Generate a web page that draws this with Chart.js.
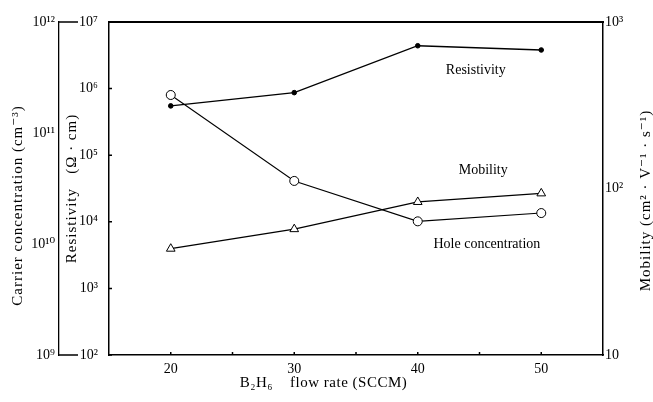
<!DOCTYPE html>
<html>
<head>
<meta charset="utf-8">
<script src="https://cdn.jsdelivr.net/npm/chart.js@4.4.1/dist/chart.umd.min.js"></script>
<style>
  html, body { margin: 0; padding: 0; background: #fff; }
  #wrap { width: 653px; height: 402px; }
</style>
</head>
<body>
<div id="wrap"><canvas id="chart"></canvas></div>
<script>
// values
var flowRates = [20, 30, 40, 50];
var resistivity = [5.5e5, 8.7e5, 4.4e6, 3.8e6];
var holeConcentration = [2.2e11, 3.7e10, 1.6e10, 1.9e10];
var mobility = [43.5, 57, 83, 93.5];

var xTicks = [20, 30, 40, 50];
var xMinorTicks = [20, 25, 30, 35, 40, 45, 50];
var carrierTicks = [1e9, 1e10, 1e11, 1e12];
var carrierTickLabels = ['10⁹', '10¹⁰', '10¹¹', '10¹²'];
var resistivityTicks = [1e2, 1e3, 1e4, 1e5, 1e6, 1e7];
var resistivityTickLabels = ['10²', '10³', '10⁴', '10⁵', '10⁶', '10⁷'];
var mobilityTicks = [10, 100, 1000];
var mobilityTickLabels = ['10', '10²', '10³'];

var serif = "'Liberation Serif', 'DejaVu Serif', serif";

function pts(ys) {
    return flowRates.map(function (x, i) { return { x: x, y: ys[i] }; });
}

function fixedTicks(values) {
    return function (scale) {
        scale.ticks = values.map(function (v) { return { value: v }; });
    };
}

function labelFrom(values, labels) {
    return function (value) {
        var i = values.indexOf(value);
        return i < 0 ? '' : labels[i];
    };
}

function sideTitle(ctx, text, x, y) {
    ctx.save();
    ctx.translate(x, y);
    ctx.rotate(-Math.PI / 2);
    ctx.fillText(text, 0, 0);
    ctx.restore();
}

var extras = {
    id: 'extras',
    afterDraw: function (chart) {
        var ctx = chart.ctx;
        var a = chart.chartArea;
        var xs = chart.scales.x;
        var rs = chart.scales.yRes;
        var cs = chart.scales.yCarrier;
        var ms = chart.scales.yMob;
        var mid = (a.top + a.bottom) / 2;
        ctx.save();
        ctx.strokeStyle = '#000';

        // top frame line
        ctx.lineWidth = 2;
        ctx.beginPath();
        ctx.moveTo(a.left - 1, a.top);
        ctx.lineTo(a.right + 1, a.top);
        ctx.stroke();

        // bracket ends of the outer axis
        ctx.lineWidth = 1.3;
        ctx.beginPath();
        ctx.moveTo(cs.right, a.top);
        ctx.lineTo(cs.right + 19, a.top);
        ctx.moveTo(cs.right, a.bottom);
        ctx.lineTo(cs.right + 19, a.bottom);
        ctx.stroke();

        // small inward ticks
        ctx.lineWidth = 1.5;
        ctx.beginPath();
        resistivityTicks.forEach(function (v) {
            var y = rs.getPixelForValue(v);
            ctx.moveTo(a.left, y);
            ctx.lineTo(a.left + 3, y);
        });
        xMinorTicks.forEach(function (v) {
            var x = xs.getPixelForValue(v);
            ctx.moveTo(x, a.bottom);
            ctx.lineTo(x, a.bottom - 3);
        });
        ctx.stroke();

        // curve labels
        ctx.fillStyle = '#000';
        ctx.font = '14px ' + serif;
        ctx.textAlign = 'center';
        ctx.textBaseline = 'middle';
        ctx.fillText('Resistivity', xs.getPixelForValue(44.7), rs.getPixelForValue(1.9e6));
        ctx.fillText('Mobility', xs.getPixelForValue(45.3), ms.getPixelForValue(129));
        ctx.fillText('Hole concentration', xs.getPixelForValue(45.6), cs.getPixelForValue(1.0e10));

        // axis titles, all reading bottom to top
        ctx.font = '15px ' + serif;
        ctx.letterSpacing = '1px';
        sideTitle(ctx, 'Carrier concentration (cm⁻³)', cs.left + 18, mid + 17);
        sideTitle(ctx, 'Resistivity   (Ω · cm)', rs.left + 13, mid);
        sideTitle(ctx, 'Mobility (cm² · V⁻¹ · s⁻¹)', ms.right - 7, mid + 12);

        ctx.letterSpacing = '0.5px';
        ctx.fillText('B₂H₆    flow rate (SCCM)', chart.width / 2 - 3, xs.bottom - 19);

        ctx.restore();
    }
};

new Chart(document.getElementById('chart'), {
    type: 'line',
    data: {
        datasets: [{
            label: 'Resistivity',
            data: pts(resistivity),
            yAxisID: 'yRes',
            borderColor: '#000',
            borderWidth: 1.3,
            pointStyle: 'circle',
            pointRadius: 2.3,
            pointBackgroundColor: '#000',
            pointBorderColor: '#000',
            pointBorderWidth: 1
        }, {
            label: 'Hole concentration',
            data: pts(holeConcentration),
            yAxisID: 'yCarrier',
            borderColor: '#000',
            borderWidth: 1.1,
            pointStyle: 'circle',
            pointRadius: 4.5,
            pointBackgroundColor: '#fff',
            pointBorderColor: '#000',
            pointBorderWidth: 1
        }, {
            label: 'Mobility',
            data: pts(mobility),
            yAxisID: 'yMob',
            borderColor: '#000',
            borderWidth: 1.3,
            pointStyle: 'triangle',
            pointRadius: 5,
            pointBackgroundColor: '#fff',
            pointBorderColor: '#000',
            pointBorderWidth: 1
        }]
    },
    options: {
        responsive: true,
        maintainAspectRatio: false,
        animation: false,
        layout: { padding: { top: 22, bottom: 0, left: 0, right: 0 } },
        plugins: {
            legend: { display: false },
            tooltip: { enabled: false }
        },
        scales: {
            x: {
                type: 'linear',
                min: 15,
                max: 55,
                afterBuildTicks: fixedTicks(xTicks),
                afterFit: function (s) { s.height = 47; },
                grid: { display: false, drawTicks: false },
                border: { display: true, color: '#000', width: 1.5 },
                ticks: {
                    color: '#000',
                    padding: 6,
                    maxRotation: 0,
                    font: { family: serif, size: 14 }
                }
            },
            yCarrier: {
                type: 'logarithmic',
                position: 'left',
                weight: 2,
                min: 1e9,
                max: 1e12,
                afterBuildTicks: fixedTicks(carrierTicks),
                afterFit: function (s) { s.width = 59; },
                grid: { display: false, drawTicks: false },
                border: { display: true, color: '#000', width: 1.3 },
                ticks: {
                    color: '#000',
                    padding: 4,
                    font: { family: serif, size: 14 },
                    callback: labelFrom(carrierTicks, carrierTickLabels)
                }
            },
            yRes: {
                type: 'logarithmic',
                position: 'left',
                weight: 1,
                min: 1e2,
                max: 1e7,
                afterBuildTicks: fixedTicks(resistivityTicks),
                afterFit: function (s) { s.width = 50; },
                grid: { display: false, drawTicks: false },
                border: { display: true, color: '#000', width: 1.5 },
                ticks: {
                    color: '#000',
                    padding: 11,
                    font: { family: serif, size: 14 },
                    callback: labelFrom(resistivityTicks, resistivityTickLabels)
                }
            },
            yMob: {
                type: 'logarithmic',
                position: 'right',
                min: 10,
                max: 1000,
                afterBuildTicks: fixedTicks(mobilityTicks),
                afterFit: function (s) { s.width = 50; },
                grid: { display: false, drawTicks: false },
                border: { display: true, color: '#000', width: 1.5 },
                ticks: {
                    color: '#000',
                    padding: 2,
                    font: { family: serif, size: 14 },
                    callback: labelFrom(mobilityTicks, mobilityTickLabels)
                }
            }
        }
    },
    plugins: [extras]
});
</script>
</body>
</html>
